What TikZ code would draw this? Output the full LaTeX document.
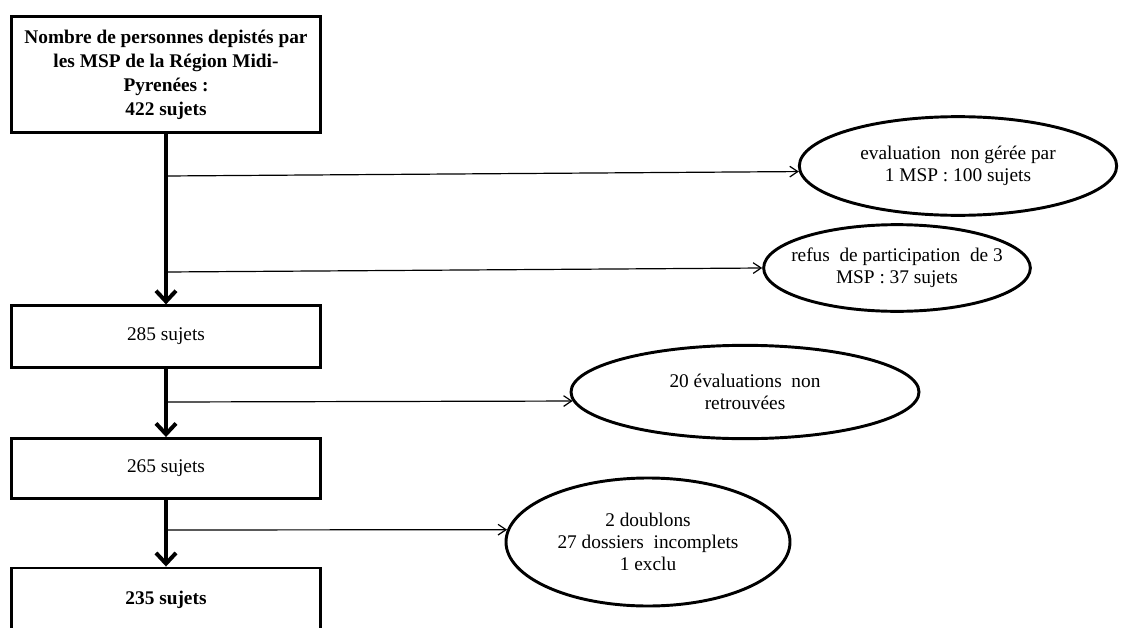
\documentclass[tikz,border=0pt]{standalone}
\usepackage{fontspec}
\setmainfont{Liberation Serif}
\usetikzlibrary{arrows.meta,shapes.geometric}

\begin{document}
\begin{tikzpicture}[x=0.75pt,y=-0.75pt,
  font=\fontsize{14.5}{16.5}\selectfont,
  boite/.style={draw,line width=2.2pt,minimum width=232pt,align=center,inner sep=0pt},
  bulle/.style={draw,ellipse,line width=2.2pt,inner sep=0pt},
  flux/.style={line width=3pt,-{Straight Barb[length=8pt,width=15pt]}},
  sortie/.style={line width=0.9pt,-{Straight Barb[length=6pt,width=8pt]}}]
\fill[white] (0,0) rectangle (1121,628);
\useasboundingbox (0,0) rectangle (1121,628);

% boites
\node[boite,minimum height=87pt,font=\fontsize{14.5}{16.5}\selectfont\bfseries] (n422) at (166,74.5)
  {Nombre de personnes depistés par\\[1.5pt]les MSP de la Région Midi-\\[1.5pt]Pyrenées :\\[1.5pt]422 sujets};
\node[boite,minimum height=46pt] (n285) at (166,336.5) {285 sujets};
\node[boite,minimum height=45pt] (n265) at (166,468.5) {265 sujets};
\node[boite,minimum height=48pt,font=\fontsize{14.5}{16.5}\selectfont\bfseries] (n235) at (166,600) {235 sujets};

% exclusions
\node[bulle,minimum width=238pt,minimum height=74pt,
  label={[align=center]center:evaluation\ \ non gérée par\\1 MSP : 100 sujets}] (e1) at (958,166) {};
\node[bulle,minimum width=200pt,minimum height=65pt,
  label={[align=center]center:refus\ \ de participation\ \ de 3\\MSP : 37 sujets}] (e2) at (897,268) {};
\node[bulle,minimum width=261pt,minimum height=70pt,
  label={[align=center]center:20 évaluations\ \ non\\retrouvées}] (e3) at (745,392) {};
\node[bulle,minimum width=213pt,minimum height=96pt,
  label={[align=center]center:2 doublons\\27 dossiers\ \ incomplets\\1 exclu}] (e4) at (648,542) {};

\coordinate (b1) at (166,176);
\coordinate (b2) at (166,272);
\coordinate (b3) at (166,402);
\coordinate (b4) at (166,530);

\draw[flux] (n422) -- (n285);
\draw[flux] (n285) -- (n265);
\draw[flux] (n265) -- (n235);
\draw[sortie] (b1) -- (e1.182);
\draw[sortie] (b2) -- (e2.west);
\draw[sortie] (b3) -- (e3.183);
\draw[sortie] (b4) -- (e4.175);
\end{tikzpicture}
\end{document}
